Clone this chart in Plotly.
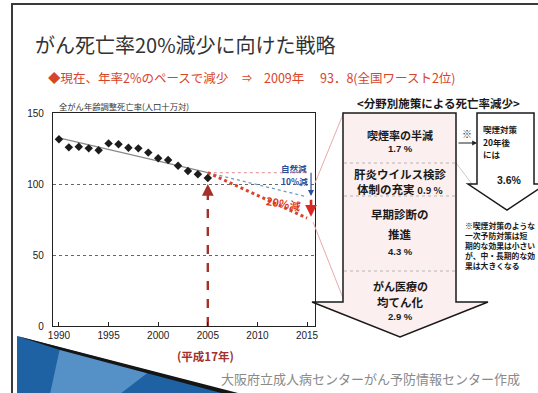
import plotly.graph_objects as go

# ---------------- data ----------------
years = list(range(1990, 2006))
rates = [131.5, 125.8, 126.3, 125.1, 123.7, 128.6, 128.0, 125.6,
         125.1, 122.1, 118.1, 116.9, 112.9, 109.2, 106.8, 104.2]
trend_years = [1990, 2005]
trend_vals = [132.5, 108.0]
proj_years = [2005, 2015]
proj_flat = [108.0, 108.0]
proj_natural = [108.0, 91.0]      # 自然減 10%減
proj_target = [108.0, 76.0]       # 20%減
xticks = [1990, 1995, 2000, 2005, 2010, 2015]
yticks = [0, 50, 100, 150]

measures = ["喫煙率の半減", "肝炎ウイルス検診", "早期診断の", "がん医療の"]
measure_vals = ["1.7 %", "0.9 %", "4.3 %", "2.9 %"]

JP = "Noto Sans CJK JP"
LAT = "Liberation Sans, Arial"

W, H = 538, 393
L, R, T, B = 53, 315, 113, 326


def px(x):
    return (x - L) / (R - L)


def py(y):
    return (B - y) / (B - T)


def path(points):
    s = "M" + " L".join(f"{px(x):.5f},{py(y):.5f}" for x, y in points) + " Z"
    return s


fig = go.Figure()

# trend line
fig.add_trace(go.Scatter(x=trend_years, y=trend_vals, mode="lines",
                         line=dict(color="#8a8a8a", width=1.1), hoverinfo="skip"))
# projections
fig.add_trace(go.Scatter(x=proj_years, y=proj_flat, mode="lines",
                         line=dict(color="#e7a3a3", width=1.3, dash="dot"), hoverinfo="skip"))
fig.add_trace(go.Scatter(x=proj_years, y=proj_natural, mode="lines",
                         line=dict(color="#6b9cc9", width=1.3, dash="dot"), hoverinfo="skip"))
fig.add_trace(go.Scatter(x=proj_years, y=proj_target, mode="lines",
                         line=dict(color="#d8452c", width=3, dash="dot"), hoverinfo="skip"))
# vertical dashed line at 2005
fig.add_trace(go.Scatter(x=[2005, 2005], y=[0, 93], mode="lines",
                         line=dict(color="#a3302b", width=2.4, dash="dash"), hoverinfo="skip"))
# data points
fig.add_trace(go.Scatter(x=years, y=rates, mode="markers",
                         marker=dict(symbol="diamond", size=6.5, color="#1c1c1c"),
                         hoverinfo="skip"))

shapes = []
# slide frame
shapes.append(dict(type="rect", xref="paper", yref="paper",
                   x0=px(12), y0=py(4), x1=px(548), y1=py(405),
                   line=dict(color="#3a3a3a", width=2), fillcolor="rgba(0,0,0,0)", layer="below"))
# blue swoosh
shapes.append(dict(type="path", xref="paper", yref="paper",
                   path=path([(17, 336), (238, 394), (17, 394)]),
                   fillcolor="#1f62a3", line=dict(width=0), layer="above"))
shapes.append(dict(type="path", xref="paper", yref="paper",
                   path=path([(60, 348), (150, 371), (120, 394), (50, 394)]),
                   fillcolor="rgba(140,190,235,0.5)", line=dict(width=0), layer="above"))
shapes.append(dict(type="path", xref="paper", yref="paper",
                   path=path([(17, 336), (238, 393), (225, 394), (60, 350)]),
                   fillcolor="#151515", line=dict(width=0), layer="above"))
# connector pink lines
shapes.append(dict(type="line", xref="paper", yref="paper",
                   x0=px(315), y0=py(183), x1=px(344), y1=py(112),
                   line=dict(color="#e9a9a9", width=1), layer="above"))
shapes.append(dict(type="line", xref="paper", yref="paper",
                   x0=px(313), y0=py(222), x1=px(343), y1=py(298),
                   line=dict(color="#e9a9a9", width=1), layer="above"))
shapes.append(dict(type="line", xref="paper", yref="paper",
                   x0=px(456), y0=py(163), x1=px(472), y1=py(184),
                   line=dict(color="#d9c4c4", width=1), layer="above"))
# big arrow
shapes.append(dict(type="path", xref="paper", yref="paper",
                   path=path([(343, 113), (456, 113), (456, 302), (488, 302),
                              (400, 337), (312, 302), (343, 302)]),
                   fillcolor="#fcefef", line=dict(color="#1a1a1a", width=1.5), layer="above"))
for yy in (163, 196, 271):
    shapes.append(dict(type="line", xref="paper", yref="paper",
                       x0=px(344), y0=py(yy), x1=px(455), y1=py(yy),
                       line=dict(color="#b5b5b5", width=1, dash="dot"), layer="above"))
# small arrow
shapes.append(dict(type="path", xref="paper", yref="paper",
                   path=path([(477, 113), (534, 113), (534, 184), (546, 184),
                              (507, 210), (468, 184), (477, 184)]),
                   fillcolor="#ffffff", line=dict(color="#1a1a1a", width=1.5), layer="above"))

ann = []


def txt(x, y, s, size, color="#1a1a1a", bold=False, anchor="center", family=JP, angle=0):
    ann.append(dict(xref="paper", yref="paper", x=px(x), y=py(y),
                    text=(f"<b>{s}</b>" if bold else s), showarrow=False,
                    xanchor=anchor, yanchor="middle", textangle=angle,
                    font=dict(family=family, size=size, color=color)))


# titles
txt(33, 44, "がん死亡率20%減少に向けた戦略", 20, "#333333", anchor="left")
RED = "#d8442a"
txt(46, 77, "◆現在、年率2%のペースで減少", 12.5, RED, anchor="left")
txt(247, 77, "⇒", 10, RED)
txt(262, 77, "2009年", 12.5, RED, anchor="left")
txt(318, 77, "93．8(全国ワースト2位)", 12.5, RED, anchor="left")
txt(57, 106, "全がん年齢調整死亡率(人口十万対)", 8.3, "#333333", anchor="left")
txt(438, 103, "<分野別施策による死亡率減少>", 11.5, "#1a1a1a", bold=True)
txt(205, 356, "(平成17年)", 11.5, "#a3302b", bold=True)
txt(370, 378, "大阪府立成人病センターがん予防情報センター作成", 13, "#8a8a8a")

# big arrow texts
txt(400, 135, measures[0], 11, bold=True)
txt(400, 148.5, measure_vals[0], 9.5, bold=True, family=LAT)
txt(400, 174, measures[1], 11.5, bold=True)
txt(400, 189, "体制の充実 <span style='font-size:9.5px'>" + measure_vals[1] + "</span>", 11.5, bold=True)
txt(400, 214, measures[2], 11.5, bold=True)
txt(400, 234, "推進", 11.5, bold=True)
txt(400, 251, measure_vals[2], 9.5, bold=True, family=LAT)
txt(400, 286, measures[3], 11, bold=True)
txt(400, 301.5, "均てん化", 11.5, bold=True)
txt(400, 316, measure_vals[3], 9.5, bold=True, family=LAT)

# small arrow texts
txt(481, 129, "喫煙対策", 8.5, bold=True, anchor="left")
txt(481, 142, "20年後", 8.5, bold=True, anchor="left")
txt(481, 154, "には", 8.5, bold=True, anchor="left")
txt(509, 180, "3.6%", 10.5, bold=True, family=LAT)
txt(467, 133, "※", 10, "#333333")
note = ["※喫煙対策のような", "一次予防対策は短", "期的な効果は小さい", "が、中・長期的な効", "果は大きくなる"]
for i, line in enumerate(note):
    txt(463, 225 + i * 10.2, line, 7.8, bold=True, anchor="left")

# "※" arrow
ann.append(dict(xref="paper", yref="paper", x=px(477), y=py(143), ax=-20, ay=0,
                text="", showarrow=True, arrowhead=2, arrowsize=0.8, arrowwidth=1.2,
                arrowcolor="#222222"))

# chart annotations (data coordinates)
ann.append(dict(x=2013.7, y=111.5, text="<b>自然減</b>", showarrow=False,
                font=dict(family=JP, size=8.5, color="#2a4f9a")))
ann.append(dict(x=2013.7, y=102, text="<b>10%減</b>", showarrow=False,
                font=dict(family=JP, size=8.5, color="#2a4f9a")))
ann.append(dict(x=2012.6, y=86.5, text="<b>20%減</b>", showarrow=False, textangle=10,
                font=dict(family=JP, size=11, color="#e03a22")))
ann.append(dict(x=2015.4, y=91.5, ax=2015.4, ay=109, axref="x", ayref="y", text="",
                showarrow=True, arrowhead=2, arrowsize=1, arrowwidth=1.2, arrowcolor="#2a4f9a"))
ann.append(dict(x=2015.4, y=77, ax=2015.4, ay=90, axref="x", ayref="y", text="",
                showarrow=True, arrowhead=2, arrowsize=0.9, arrowwidth=2.6, arrowcolor="#d82a22"))
ann.append(dict(x=2005, y=100, ax=2005, ay=92, axref="x", ayref="y", text="",
                showarrow=True, arrowhead=2, arrowsize=0.9, arrowwidth=2.6, arrowcolor="#a3302b"))

fig.update_layout(
    width=W, height=H,
    margin=dict(l=L, r=W - R, t=T, b=H - B, pad=0),
    paper_bgcolor="#ffffff", plot_bgcolor="#ffffff",
    showlegend=False,
    shapes=shapes, annotations=ann,
    xaxis=dict(range=[1989.4, 2015.8], tickvals=xticks, ticks="inside", ticklen=4,
               tickcolor="#222", showline=True, linecolor="#222", linewidth=1.2,
               mirror=True, showgrid=False, zeroline=False,
               tickfont=dict(family=LAT, size=10, color="#222"),
               tickprefix="<b>", ticksuffix="</b>"),
    yaxis=dict(range=[0, 150], tickvals=yticks, ticks="", showline=True,
               linecolor="#222", linewidth=1.2, mirror=True, showgrid=True,
               gridcolor="#666", griddash="dot", gridwidth=1, zeroline=False,
               tickfont=dict(family=LAT, size=10, color="#222"),
               tickprefix="<b>", ticksuffix="</b>", ticklabelstandoff=6),
)

fig.write_html("out.html")
